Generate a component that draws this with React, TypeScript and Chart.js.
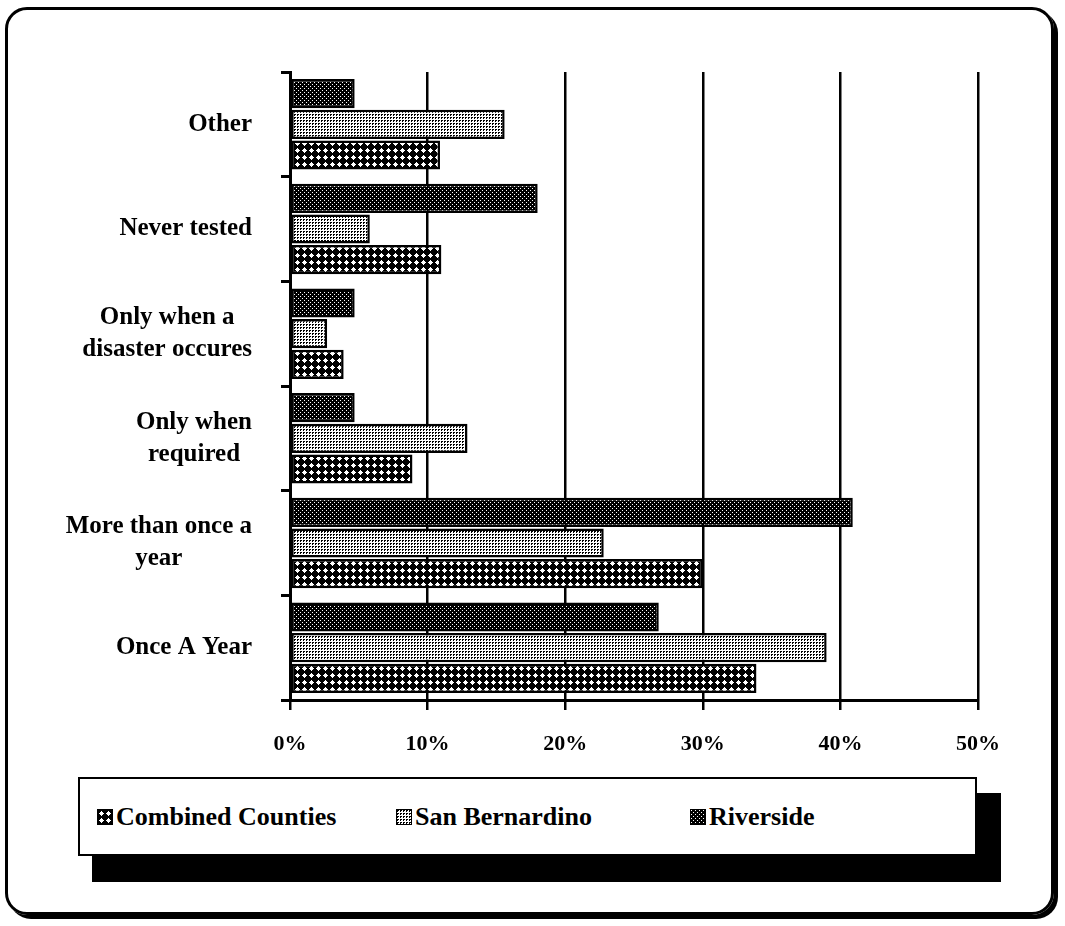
import React, { useEffect, useMemo, useRef } from "react";
import { Chart, registerables } from "chart.js";

Chart.register(...registerables);

const categories: string[][] = [
  ["Other"],
  ["Never tested"],
  ["Only when a", "disaster occures"],
  ["Only when", "required"],
  ["More than once a", "year"],
  ["Once A Year"],
];
const riverside = [4.7, 18.0, 4.7, 4.7, 40.9, 26.8];
const sanBernardino = [15.6, 5.8, 2.7, 12.9, 22.8, 39.0];
const combined = [10.9, 11.0, 3.9, 8.9, 30.0, 33.9];
const xTickMax = 50;
const xTickStep = 10;
const legendLabels = ["Combined Counties", "San Bernardino", "Riverside"];

const FONT = '"Liberation Serif", "Times New Roman", serif';

type Kind = "riverside" | "sb" | "combined";

function makeTile(kind: Kind): HTMLCanvasElement {
  const c = document.createElement("canvas");
  const size = kind === "combined" ? 7 : kind === "sb" ? 3 : 4;
  c.width = size;
  c.height = size;
  const ctx = c.getContext("2d")!;
  if (kind === "riverside") {
    ctx.fillStyle = "#000";
    ctx.fillRect(0, 0, size, size);
    ctx.fillStyle = "#fff";
    ctx.fillRect(0, 0, 1, 1);
    ctx.fillRect(2, 2, 1, 1);
  } else if (kind === "sb") {
    ctx.fillStyle = "#fff";
    ctx.fillRect(0, 0, size, size);
    ctx.fillStyle = "#000";
    ctx.fillRect(0, 0, 2, 1);
    ctx.fillRect(0, 1, 1, 1);
  } else {
    ctx.fillStyle = "#000";
    ctx.fillRect(0, 0, size, size);
    ctx.fillStyle = "#fff";
    ctx.fillRect(2, 2, 3, 3);
    ctx.fillRect(3, 1, 1, 5);
    ctx.fillRect(1, 3, 5, 1);
  }
  return c;
}

const yLabelPlugin = {
  id: "yLabelPlugin",
  afterDraw(chart: any) {
    const scale = chart.scales.y;
    const ctx = chart.ctx as CanvasRenderingContext2D;
    ctx.save();
    ctx.font = `bold 25px ${FONT}`;
    ctx.fillStyle = "#000";
    ctx.textAlign = "center";
    ctx.textBaseline = "middle";
    const lineH = 32;
    const rightEdge = 252;
    categories.forEach((lines, i) => {
      const y = scale.getPixelForValue(i);
      const maxW = Math.max(...lines.map((l) => ctx.measureText(l).width));
      const cx = rightEdge - maxW / 2;
      const y0 = y - ((lines.length - 1) * lineH) / 2;
      lines.forEach((l, j) => ctx.fillText(l, cx, y0 + j * lineH));
    });
    ctx.restore();
  },
};

export default function App() {
  const canvasRef = useRef<HTMLCanvasElement | null>(null);
  const tiles = useMemo(
    () => ({
      riverside: makeTile("riverside"),
      sb: makeTile("sb"),
      combined: makeTile("combined"),
    }),
    []
  );

  useEffect(() => {
    const canvas = canvasRef.current!;
    const ctx = canvas.getContext("2d")!;
    const pat = (k: Kind) => ctx.createPattern(tiles[k], "repeat")!;
    const common = {
      borderColor: "#000",
      borderWidth: 2.5,
      borderSkipped: false,
      categoryPercentage: 0.88,
      barPercentage: 0.95,
    };
    const chart = new Chart(canvas, {
      type: "bar",
      data: {
        labels: categories.map((c) => c.join(" ")),
        datasets: [
          { label: "Riverside", data: riverside, backgroundColor: pat("riverside"), ...common },
          { label: "San Bernardino", data: sanBernardino, backgroundColor: pat("sb"), ...common },
          { label: "Combined Counties", data: combined, backgroundColor: pat("combined"), ...common },
        ],
      },
      options: {
        indexAxis: "y",
        responsive: false,
        animation: false,
        events: [],
        layout: { padding: { top: 72, right: 87, left: 0, bottom: 0 } },
        plugins: { legend: { display: false }, tooltip: { enabled: false } },
        scales: {
          x: {
            min: 0,
            max: xTickMax,
            ticks: {
              stepSize: xTickStep,
              color: "#000",
              font: { family: FONT, size: 22, weight: "bold" },
              padding: 21,
              callback: (v: any) => `${v}%`,
            },
            grid: { color: "#000", lineWidth: 2.5, tickLength: 10, drawTicks: true },
            border: { display: true, color: "#000", width: 3 },
            afterFit: (s: any) => {
              s.height = 70;
            },
          },
          y: {
            type: "category",
            ticks: { display: false },
            grid: {
              offset: true,
              drawOnChartArea: false,
              drawTicks: true,
              tickLength: 9,
              color: "#000",
              lineWidth: 3,
            },
            border: { display: true, color: "#000", width: 3 },
            afterFit: (s: any) => {
              s.width = 290;
            },
          },
        },
      } as any,
      plugins: [yLabelPlugin],
    });
    return () => chart.destroy();
  }, [tiles]);

  const swatch = (k: Kind) => ({
    width: 16,
    height: 16,
    border: "1.5px solid #000",
    boxSizing: "border-box" as const,
    backgroundImage: `url(${tiles[k].toDataURL()})`,
    backgroundRepeat: "repeat",
    imageRendering: "pixelated" as const,
    marginRight: 3,
  });

  const legendItems: { label: string; kind: Kind; left: number }[] = [
    { label: legendLabels[0], kind: "combined", left: 17 },
    { label: legendLabels[1], kind: "sb", left: 316 },
    { label: legendLabels[2], kind: "riverside", left: 610 },
  ];

  return (
    <div
      style={{
        position: "absolute",
        left: 0,
        top: 0,
        width: 1065,
        height: 926,
        background: "#fff",
        overflow: "hidden",
      }}
    >
      <div
        style={{
          position: "absolute",
          left: 5,
          top: 7,
          width: 1049,
          height: 908,
          border: "3px solid #000",
          borderRadius: 22,
          boxSizing: "border-box",
          boxShadow: "4px 4px 0 0 #000",
        }}
      />
      <canvas
        ref={canvasRef}
        width={1065}
        height={770}
        style={{ position: "absolute", left: 0, top: 0, width: 1065, height: 770 }}
      />
      <div
        style={{
          position: "absolute",
          left: 78,
          top: 777,
          width: 899,
          height: 79,
          border: "2px solid #000",
          boxSizing: "border-box",
          background: "#fff",
          boxShadow: "19px 21px 0 5px #000",
        }}
      >
        {legendItems.map((it) => (
          <div
            key={it.label}
            style={{
              position: "absolute",
              left: it.left,
              top: 23,
              display: "flex",
              alignItems: "center",
              fontFamily: FONT,
              fontWeight: "bold",
              fontSize: 26,
              lineHeight: "30px",
              color: "#000",
              whiteSpace: "nowrap",
            }}
          >
            <div style={swatch(it.kind)} />
            <span>{it.label}</span>
          </div>
        ))}
      </div>
    </div>
  );
}
